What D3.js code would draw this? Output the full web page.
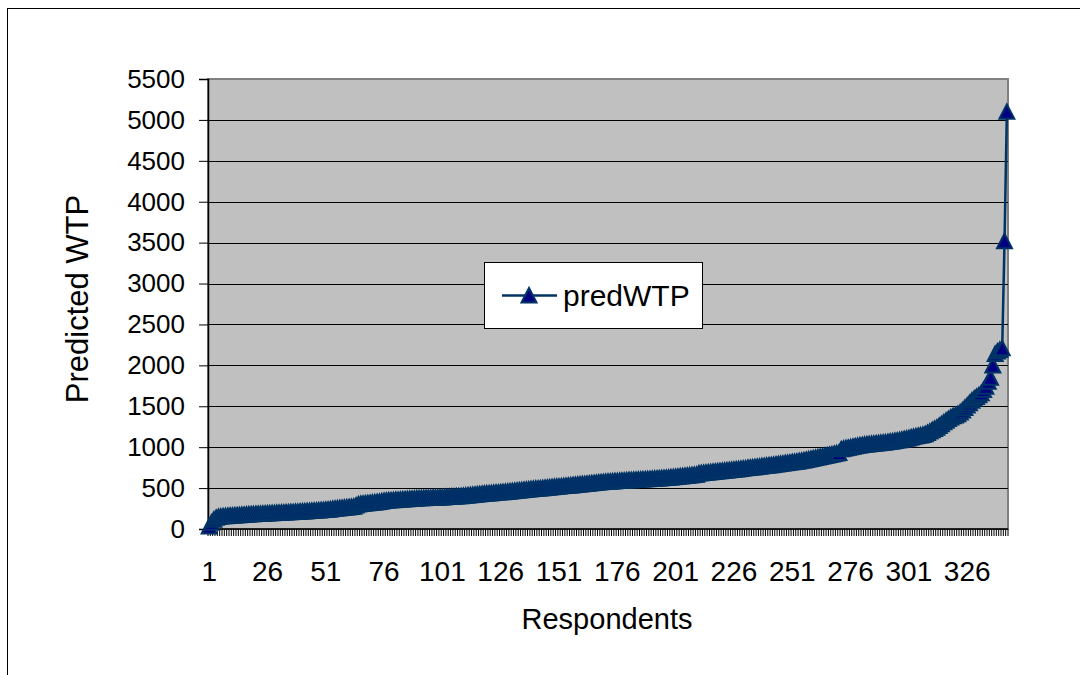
<!DOCTYPE html>
<html>
<head>
<meta charset="utf-8">
<script src="https://cdn.jsdelivr.net/npm/d3@7"></script>
<style>
html,body{margin:0;padding:0;background:#fff;}
svg{display:block;font-family:"Liberation Sans",Arial,sans-serif;}
</style>
</head>
<body>
<svg id="chart" width="1080" height="675"></svg>
<script>
const seriesName = "predWTP";
const xTitle = "Respondents";
const yTitle = "Predicted WTP";
const yTicks = [0,500,1000,1500,2000,2500,3000,3500,4000,4500,5000,5500];
const xTickLabels = [1,26,51,76,101,126,151,176,201,226,251,276,301,326];
const predWTP = [
12,58,96,118,128,133,136,139,141,143,
145,147,149,151,153,155,157,159,161,163,
164,166,167,169,170,172,173,175,176,178,
179,180,182,183,185,186,188,189,191,193,
195,197,199,201,203,205,207,209,211,213,
216,218,221,226,229,232,235,238,241,244,
247,250,254,268,282,287,291,294,297,300,
303,306,309,312,318,324,327,330,332,334,
336,338,340,342,344,346,348,350,352,354,
356,358,359,360,361,362,363,364,365,367,
368,370,372,374,376,377,379,381,383,385,
388,391,394,397,400,403,406,409,412,415,
417,420,422,425,427,430,432,435,437,440,
443,446,449,452,455,458,461,464,467,470,
473,476,478,481,483,486,489,492,495,498,
500,503,506,509,511,514,517,519,522,525,
528,531,534,537,540,543,546,549,552,555,
557,559,561,563,565,567,569,571,573,575,
577,579,580,582,584,586,587,589,590,592,
594,596,598,600,602,604,606,609,612,615,
618,621,624,627,630,633,636,639,642,645,
660,664,667,670,673,676,679,682,685,689,
692,695,698,701,704,707,710,713,716,720,
723,727,730,734,737,741,744,748,751,755,
758,762,765,769,773,777,781,785,789,793,
797,801,805,810,815,820,826,832,838,844,
850,856,862,868,874,880,886,892,898,904,
910,955,962,968,974,980,986,992,998,1003,
1007,1011,1015,1018,1021,1024,1027,1030,1033,1036,
1040,1044,1048,1052,1057,1062,1067,1072,1078,1085,
1092,1100,1108,1114,1120,1125,1130,1140,1155,1172,
1188,1205,1220,1240,1262,1285,1305,1325,1345,1360,
1370,1385,1405,1430,1460,1490,1520,1550,1575,1595,
1615,1640,1680,1720,1780,1830,1980,2120,2150,2170,
2190,3500,5080
];
const respondents = predWTP.map((d,i)=>i+1);

const svg = d3.select("#chart");
const L = 208, R = 1008, T = 79, B = 529;

// outer chart frame
svg.append("rect").attr("x",7.5).attr("y",8.5).attr("width",1100).attr("height",700)
  .attr("fill","#fff").attr("stroke","#000").attr("stroke-width",1);

const x = d3.scaleBand().domain(respondents).range([L,R]).padding(0);
const y = d3.scaleLinear().domain([0,5500]).range([B,T]);

// plot area
svg.append("rect").attr("x",L).attr("y",T).attr("width",R-L).attr("height",B-T)
  .attr("fill","#c0c0c0").attr("stroke","#808080").attr("stroke-width",2);

// gridlines
svg.append("g").selectAll("line").data(yTicks.filter(v=>v>0 && v<5500)).join("line")
  .attr("x1",L).attr("x2",R).attr("y1",d=>Math.round(y(d))+0.5).attr("y2",d=>Math.round(y(d))+0.5)
  .attr("stroke","#000").attr("stroke-width",1);

// y axis
const yAxis = d3.axisLeft(y).tickValues(yTicks).tickSize(9).tickPadding(14).tickFormat(d3.format("d"));
const gy = svg.append("g").attr("transform",`translate(${L},0)`).call(yAxis);
gy.select(".domain").attr("stroke","#000").attr("stroke-width",1.5);
gy.selectAll(".tick line").attr("stroke","#000");
gy.selectAll(".tick text").attr("font-size",26).attr("fill","#000").attr("font-family","Liberation Sans, Arial, sans-serif");

// x axis: tick at every category boundary
const bw = x.bandwidth();
const xb = svg.append("g");
xb.selectAll("line").data(respondents.concat([respondents.length+1])).join("line")
  .attr("x1",d=>L+(d-1)*bw).attr("x2",d=>L+(d-1)*bw)
  .attr("y1",B).attr("y2",B+7).attr("stroke","#000").attr("stroke-width",1);
xb.append("line").attr("x1",L).attr("x2",R).attr("y1",B).attr("y2",B).attr("stroke","#000").attr("stroke-width",1.5);
xb.selectAll("text").data(xTickLabels).join("text")
  .attr("x",d=>x(d)+bw/2).attr("y",581).attr("text-anchor","middle")
  .attr("font-size",28).attr("fill","#000").text(d=>d);

// titles
svg.append("text").attr("x",607).attr("y",629).attr("text-anchor","middle")
  .attr("font-size",29).attr("fill","#000").text(xTitle);
svg.append("text").attr("transform","translate(88,299) rotate(-90)").attr("text-anchor","middle")
  .attr("font-size",31).attr("fill","#000").text(yTitle);

// line
const cx = d=>x(d.i)+bw/2;
const data = predWTP.map((v,k)=>({i:k+1,v}));
svg.append("path").datum(data)
  .attr("d",d3.line().x(cx).y(d=>y(d.v)))
  .attr("fill","none").attr("stroke","#003366").attr("stroke-width",2.5);

const tri = "M0,-9 L7.5,5.5 L-7.5,5.5 Z";
svg.append("g").selectAll("path").data(data).join("path")
  .attr("transform",d=>`translate(${cx(d)},${y(d.v)})`)
  .attr("d",tri).attr("fill","#000080").attr("stroke","#003366").attr("stroke-width",2);

// legend
const lg = svg.append("g");
lg.append("rect").attr("x",484.5).attr("y",262.5).attr("width",218).attr("height",66)
  .attr("fill","#fff").attr("stroke","#000").attr("stroke-width",1);
lg.append("line").attr("x1",502).attr("x2",557).attr("y1",295.5).attr("y2",295.5)
  .attr("stroke","#003366").attr("stroke-width",2.5);
lg.append("path").attr("transform","translate(529,297)").attr("d",tri)
  .attr("fill","#000080").attr("stroke","#003366").attr("stroke-width",2);
lg.append("text").attr("x",563).attr("y",306).attr("font-size",30).attr("fill","#000").text(seriesName);
</script>
</body>
</html>
